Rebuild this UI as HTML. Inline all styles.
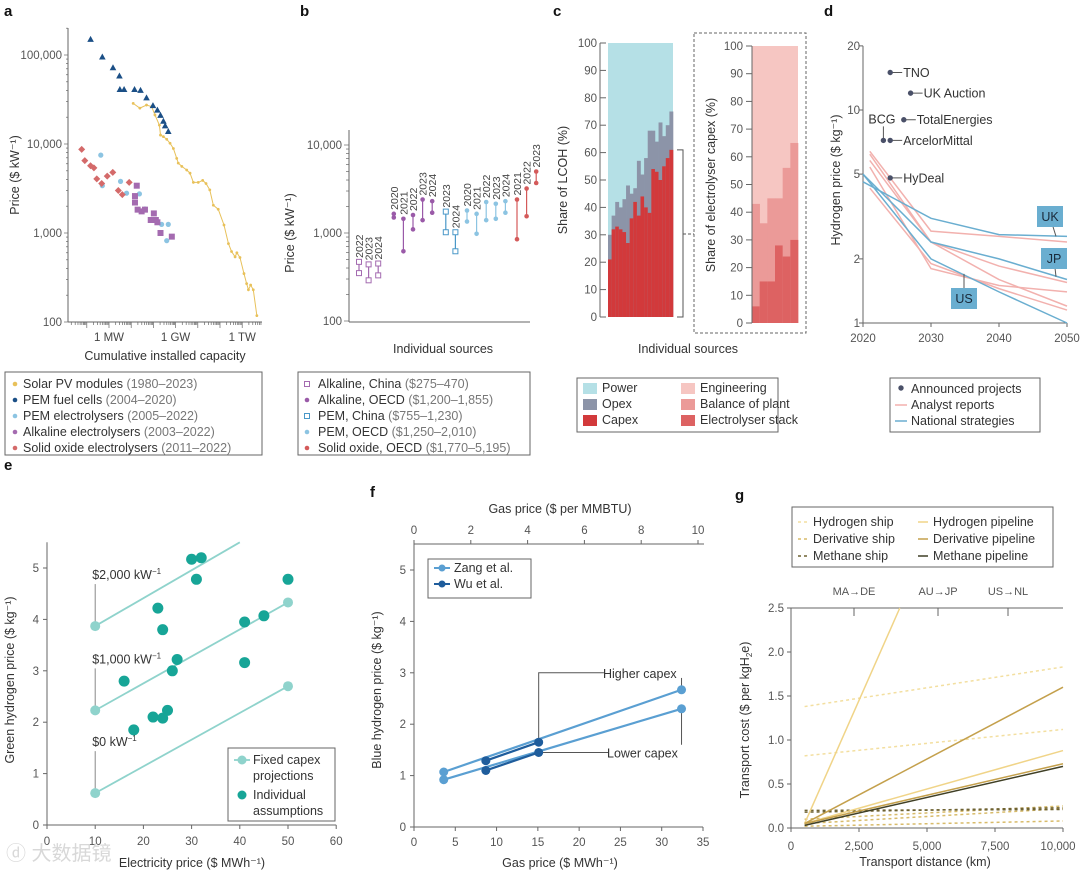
<!DOCTYPE html>
<html><head><meta charset="utf-8"><style>
body{margin:0;background:#fff}
svg{display:block;font-family:"Liberation Sans","Noto Sans CJK SC",sans-serif}
</style></head><body>
<svg id="fig" width="1080" height="872" viewBox="0 0 1080 872" xmlns="http://www.w3.org/2000/svg">
<g font-weight="bold" font-size="15" fill="#111">
<text x="4" y="16">a</text>
<text x="300" y="16">b</text>
<text x="553" y="16">c</text>
<text x="824" y="16">d</text>
<text x="4" y="470">e</text>
<text x="370" y="497">f</text>
<text x="735" y="500">g</text>
</g>
</svg>
<script>
const NS='http://www.w3.org/2000/svg';
const svg=document.getElementById('fig');
function mk(tag,attrs,txt){const e=document.createElementNS(NS,tag);for(const k in attrs)e.setAttribute(k,attrs[k]);if(txt!==undefined)e.textContent=txt;svg.appendChild(e);return e;}
const L10=Math.log10;

/* ---------- data ---------- */
// panel a (capacity as log10 MW, price in $/kW)
const solarCap=[1.09,1.39,1.69,1.92,2.07,2.27,2.32,2.45,2.60,2.75,2.90,3.05,3.12,3.28,3.50,3.65,3.80,4.02,4.22,4.37,4.54,4.70,4.92,5.18,5.38,5.52,5.68,5.76,5.90,6.08,6.20,6.28,6.38,6.50,6.66];
const solarPrice=[28600,25300,27400,26300,21200,16300,12600,12100,11300,10200,8900,6900,6100,5600,5100,4700,3700,3700,3900,3600,3050,2050,1850,1230,760,620,540,600,530,350,270,230,260,230,118];
const fcCap=[-0.83,-0.30,0.18,0.47,0.49,0.68,1.15,1.42,1.69,1.98,2.18,2.32,2.45,2.53,2.67];
const fcPrice=[150000,95000,72000,58000,41000,41000,41000,40000,33000,27000,24000,21000,18000,16000,13800];
const pemCap=[-0.37,-0.30,0.52,0.79,1.37,1.62,2.37,2.67,2.60];
const pemPrice=[7500,3400,3800,2800,2750,1860,1250,1250,820];
const alkCap=[1.25,1.17,1.17,1.29,1.47,1.62,2.02,1.88,2.11,2.18,2.32,2.83];
const alkPrice=[3400,2600,2200,1830,1750,1830,1660,1400,1400,1320,1000,910];
const soCap=[-1.23,-1.09,-0.83,-0.68,-0.55,-0.33,-0.08,0.17,0.42,0.60,0.91];
const soPrice=[8700,6500,5700,5400,4050,3600,4350,4800,3000,2700,3700];
// panel b
const bYears=['2022','2023','2024','2020','2021','2022','2023','2024','2023','2024','2020','2021','2022','2023','2024','2021','2022','2023'];
const bGroup=[0,0,0,1,1,1,1,1,2,2,3,3,3,3,3,4,4,4];
const bLow=[350,290,330,1500,620,1100,1400,1700,1020,620,1350,980,1400,1450,1700,850,1550,3700];
const bHigh=[470,440,450,1650,1450,1600,2400,2300,1750,1020,1800,1650,2250,2150,2300,2400,3200,5000];
// panel c
const capexShare=[21,32,33,32,31,27,36,42,37,44,40,38,54,53,50,55,58,61];
const opexTop=[30,37,42,40,43,48,45,47,57,52,58,68,68,64,71,66,70,75];
const stackShare=[6,15,15,28,24,30];
const bopTop=[43,36,45,45,56,65];
// panel d
const dYears=[2020,2030,2040,2050];
const ukStrat=[4.6,3.1,2.6,2.55];
const jpStrat=[5.0,2.4,2.0,1.6];
const usStrat=[5.0,2.0,1.4,1.0];
const analyst1=[6.4,2.7,2.55,2.4];
const analyst2=[6.2,2.4,1.85,1.55];
const analyst3=[5.8,2.4,1.6,1.2];
const analyst4=[5.4,1.8,1.5,1.4];
const analyst5=[4.3,1.9,1.45,1.15];
const projNames=['TNO','UK Auction','TotalEnergies','BCG','ArcelorMittal','HyDeal'];
const projYear=[2024,2027,2026,2023,2024,2024];
const projPrice=[15,12,9,7.2,7.2,4.8];
// panel e
const eElec=[30,32,31,50,23,24,41,45,27,26,16,41,22,24,25,18];
const eH2=[5.17,5.2,4.78,4.78,4.22,3.8,3.95,4.07,3.22,3.0,2.8,3.16,2.1,2.08,2.23,1.85];
const fixedX0=[10,10,10];
const fixedY0=[3.87,2.23,0.62];
const fixedX1=[40,50,50];
const fixedY1=[5.5,4.33,2.7];
const fixedLabels=['$2,000 kW','$1,000 kW','$0 kW'];
// panel f
const zangGas=[3.6,32.4];
const zangHigh=[1.07,2.67];
const zangLow=[0.92,2.3];
const wuGas=[8.7,15.1];
const wuHigh=[1.29,1.65];
const wuLow=[1.1,1.45];
// panel g
const gStart=500;
const gEnd=[10000,10000,10000,10000,10000,10000,10000,4000,10000,10000,10000,10000];
const gV0=[1.38,0.82,0.1,0.05,0.02,0.2,0.18,0.05,0.05,0.05,0.05,0.03];
const gV1=[1.83,1.12,0.25,0.22,0.08,0.21,0.23,2.5,0.88,1.6,0.73,0.7];
const gType=[0,0,1,1,1,2,2,3,3,4,4,5];

/* ---------- panel a ---------- */
const xA=l=>109+22.2*l, yA=p=>55+89*(5-L10(p));
let e;
e=mk('line',{x1:68,y1:28,x2:68,y2:322,stroke:'#666'});


e=mk('line',{x1:68,y1:322,x2:262,y2:322,stroke:'#666'});


for(let d=2;d<=5;d++){for(let m=1;m<10;m++){const p=m*Math.pow(10,d);if(p>200000)break;
 e=mk('line',{x1:m==1?64:66,y1:yA(p),x2:68,y2:yA(p),stroke:'#666','stroke-width':0.7});
 
 }}
['100','1,000','10,000','100,000'].forEach((t,i)=>{e=mk('text',{x:62,y:yA(Math.pow(10,i+2))+4,'text-anchor':'end','font-size':11.5,fill:'#555'},t);
 
 });
for(let d=-2;d<=6;d++){for(let m=1;m<10;m++){const x=xA(d+L10(m));if(x<70||x>262)continue;
 e=mk('line',{x1:x,y1:322,x2:x,y2:m==1?328:325,stroke:'#666','stroke-width':0.7});
 
 }}
[['1 MW',0],['1 GW',3],['1 TW',6]].forEach(([t,l])=>{e=mk('text',{x:xA(l),y:341,'text-anchor':'middle','font-size':11.5,fill:'#444'},t);
 
 });
e=mk('text',{x:165,y:360,'text-anchor':'middle','font-size':12.5,fill:'#333'},'Cumulative installed capacity');


e=mk('text',{x:0,y:0,transform:'translate(19,175) rotate(-90)','text-anchor':'middle','font-size':12.5,fill:'#333'},'Price ($ kW⁻¹)');


e=mk('polyline',{points:solarCap.map((c,i)=>xA(c)+','+yA(solarPrice[i])).join(' '),fill:'none',stroke:'#e8c15a','stroke-width':1});


solarCap.forEach((c,i)=>{e=mk('circle',{cx:xA(c),cy:yA(solarPrice[i]),r:1.4,fill:'#e8c15a'});
 
 });
fcCap.forEach((c,i)=>{const x=xA(c),y=yA(fcPrice[i]);e=mk('polygon',{points:`${x},${y-3.5} ${x-3.3},${y+2.5} ${x+3.3},${y+2.5}`,fill:'#1b4f86'});
 
 });
pemCap.forEach((c,i)=>{e=mk('circle',{cx:xA(c),cy:yA(pemPrice[i]),r:2.6,fill:'#8cc4e2'});
 
 });
alkCap.forEach((c,i)=>{e=mk('rect',{x:xA(c)-3,y:yA(alkPrice[i])-3,width:6,height:6,fill:'#a46bb0'});
 
 });
soCap.forEach((c,i)=>{const x=xA(c),y=yA(soPrice[i]);e=mk('polygon',{points:`${x},${y-3.5} ${x+3.5},${y} ${x},${y+3.5} ${x-3.5},${y}`,fill:'#d46a6a'});
 
 });
e=mk('rect',{x:5,y:372,width:257,height:83,fill:'none',stroke:'#666'});


const aLeg=[['Solar PV modules','(1980–2023)','#e8c15a'],['PEM fuel cells','(2004–2020)','#1b4f86'],['PEM electrolysers','(2005–2022)','#8cc4e2'],['Alkaline electrolysers','(2003–2022)','#a46bb0'],['Solid oxide electrolysers','(2011–2022)','#d46a6a']];
aLeg.forEach((r,i)=>{const y=388+16*i;
 e=mk('circle',{cx:15,cy:y-4,r:2.3,fill:r[2]});
 
 
 e=mk('text',{x:23,y:y,'font-size':12.5,fill:'#333'});
 e.innerHTML=r[0]+' <tspan fill="#777">'+r[1]+'</tspan>';
 
 });

/* ---------- panel b ---------- */
const yB=p=>233+88*(3-L10(p));
const bColors=['#a46bb0','#9a5aa8','#4a98c8','#8cc4e2','#d45a5a'];
e=mk('line',{x1:349,y1:130,x2:349,y2:322,stroke:'#666'});


e=mk('line',{x1:349,y1:322,x2:530,y2:322,stroke:'#666'});


for(let d=2;d<=4;d++){for(let m=1;m<10;m++){const p=m*Math.pow(10,d);if(p>10000)break;
 e=mk('line',{x1:m==1?344:346,y1:yB(p),x2:349,y2:yB(p),stroke:'#666','stroke-width':0.7});
 
 }}
['100','1,000','10,000'].forEach((t,i)=>{e=mk('text',{x:342,y:yB(Math.pow(10,i+2))+4,'text-anchor':'end','font-size':11.5,fill:'#555'},t);
 
 });
e=mk('text',{x:0,y:0,transform:'translate(294,233) rotate(-90)','text-anchor':'middle','font-size':12.5,fill:'#333'},'Price ($ kW⁻¹)');


e=mk('text',{x:443,y:353,'text-anchor':'middle','font-size':12.5,fill:'#333'},'Individual sources');


const xB=i=>359+9.6*i+(bGroup[i]>=1?6:0)+(bGroup[i]>=2?4:0)+(bGroup[i]>=3?2:0)+(bGroup[i]>=4?2:0);
bLow.forEach((lo,i)=>{const x=xB(i),c=bColors[bGroup[i]],sq=(bGroup[i]==0||bGroup[i]==2);
 e=mk('line',{x1:x,y1:yB(lo),x2:x,y2:yB(bHigh[i]),stroke:c,'stroke-width':1.2});
 
 
 [lo,bHigh[i]].forEach(v=>{
  if(sq){e=mk('rect',{x:x-2.5,y:yB(v)-2.5,width:5,height:5,fill:'#fff',stroke:c,'stroke-width':1});}
  else{e=mk('circle',{cx:x,cy:yB(v),r:2.3,fill:c});}
  
  });
 e=mk('text',{x:0,y:0,transform:`translate(${x+4},${yB(bHigh[i])-4}) rotate(-90)`,'font-size':10.5,fill:'#444'},bYears[i]);
 
 });
e=mk('rect',{x:298,y:372,width:232,height:83,fill:'none',stroke:'#666'});


const bLeg=[['Alkaline, China','($275–470)'],['Alkaline, OECD','($1,200–1,855)'],['PEM, China','($755–1,230)'],['PEM, OECD','($1,250–2,010)'],['Solid oxide, OECD','($1,770–5,195)']];
bLeg.forEach((r,i)=>{const y=388+16*i,sq=(i==0||i==2);
 if(sq){e=mk('rect',{x:304.5,y:y-6.5,width:5,height:5,fill:'#fff',stroke:bColors[i]});}else{e=mk('circle',{cx:307,cy:y-4,r:2.3,fill:bColors[i]});}
 
 
 e=mk('text',{x:318,y:y,'font-size':12.5,fill:'#333'});
 e.innerHTML=r[0]+' <tspan fill="#777">'+r[1]+'</tspan>';
 
 });

/* ---------- panel c ---------- */
const yC=v=>317-2.74*v, yC2=v=>323-2.77*v;
const cx0=608,cw=65/capexShare.length;
e=mk('rect',{x:cx0,y:yC(100),width:65,height:yC(0)-yC(100),fill:'#b5e0e6'});


capexShare.forEach((v,i)=>{
 e=mk('rect',{x:cx0+i*cw,y:yC(opexTop[i]),width:cw+0.3,height:yC(0)-yC(opexTop[i]),fill:'#8c94a8'});
 
 
 e=mk('rect',{x:cx0+i*cw,y:yC(v),width:cw+0.3,height:yC(0)-yC(v),fill:'#d2393b'});
 
 });
e=mk('line',{x1:600,y1:yC(0),x2:600,y2:yC(100),stroke:'#666'});


for(let v=0;v<=100;v+=10){e=mk('line',{x1:600,y1:yC(v),x2:606,y2:yC(v),stroke:'#666'});
 
 
 e=mk('text',{x:597,y:yC(v)+4,'text-anchor':'end','font-size':11.5,fill:'#555'},String(v));
 
 }
e=mk('text',{x:0,y:0,transform:'translate(567,180) rotate(-90)','text-anchor':'middle','font-size':12.5,fill:'#333'},'Share of LCOH (%)');


e=mk('polyline',{points:`677,${yC(61)} 683,${yC(61)} 683,${yC(0)} 677,${yC(0)}`,fill:'none',stroke:'#555'});


e=mk('line',{x1:683,y1:234,x2:694,y2:234,stroke:'#555','stroke-dasharray':'3,2'});


e=mk('rect',{x:694,y:33,width:112,height:300,fill:'none',stroke:'#666','stroke-dasharray':'3,2'});


const c2x=752,c2w=46/stackShare.length;
e=mk('rect',{x:c2x,y:yC2(100),width:46,height:yC2(0)-yC2(100),fill:'#f6c6c2'});


stackShare.forEach((v,i)=>{
 e=mk('rect',{x:c2x+i*c2w,y:yC2(bopTop[i]),width:c2w+0.3,height:yC2(0)-yC2(bopTop[i]),fill:'#eb9a98'});
 
 
 e=mk('rect',{x:c2x+i*c2w,y:yC2(v),width:c2w+0.3,height:yC2(0)-yC2(v),fill:'#dd6262'});
 
 });
e=mk('line',{x1:752,y1:yC2(0),x2:752,y2:yC2(100),stroke:'#666'});


for(let v=0;v<=100;v+=10){e=mk('line',{x1:746,y1:yC2(v),x2:752,y2:yC2(v),stroke:'#666'});
 
 
 e=mk('text',{x:743,y:yC2(v)+4,'text-anchor':'end','font-size':11.5,fill:'#555'},String(v));
 
 }
e=mk('text',{x:0,y:0,transform:'translate(715,185) rotate(-90)','text-anchor':'middle','font-size':12.5,fill:'#333'},'Share of electrolyser capex (%)');


e=mk('text',{x:688,y:353,'text-anchor':'middle','font-size':12.5,fill:'#333'},'Individual sources');


e=mk('rect',{x:577,y:378,width:201,height:54,fill:'none',stroke:'#666'});


[['Power','#b5e0e6',583],['Opex','#8c94a8',583],['Capex','#d2393b',583],['Engineering','#f6c6c2',681],['Balance of plant','#eb9a98',681],['Electrolyser stack','#dd6262',681]].forEach((r,i)=>{const y=392+16*(i%3);
 e=mk('rect',{x:r[2],y:y-9,width:14,height:11,fill:r[1]});
 
 
 e=mk('text',{x:r[2]+19,y:y,'font-size':12.5,fill:'#333'},r[0]);
 
 });

/* ---------- panel d ---------- */
const xD=y=>863+(y-2020)*6.8, yD=v=>323-213*L10(v);
e=mk('line',{x1:863,y1:yD(20),x2:863,y2:yD(1),stroke:'#666'});


e=mk('line',{x1:863,y1:yD(1),x2:1067,y2:yD(1),stroke:'#666'});


[1,2,5,10,20].forEach(v=>{e=mk('line',{x1:859,y1:yD(v),x2:863,y2:yD(v),stroke:'#666'});
 
 
 e=mk('text',{x:860,y:yD(v)+4,'text-anchor':'end','font-size':11.5,fill:'#555'},String(v));
 
 });
dYears.forEach(y=>{e=mk('line',{x1:xD(y),y1:323,x2:xD(y),y2:327,stroke:'#666'});
 
 
 e=mk('text',{x:xD(y),y:342,'text-anchor':'middle','font-size':11.5,fill:'#555'},String(y));
 
 });
e=mk('text',{x:0,y:0,transform:'translate(840,180) rotate(-90)','text-anchor':'middle','font-size':12.5,fill:'#333'},'Hydrogen price ($ kg⁻¹)');


[analyst1,analyst2,analyst3,analyst4,analyst5].forEach(s=>{e=mk('polyline',{points:s.map((v,i)=>xD(dYears[i]+(i==0?1:0))+','+yD(v)).join(' '),fill:'none',stroke:'#f2b1ae','stroke-width':1.5});
 
 });
[ukStrat,jpStrat,usStrat].forEach(s=>{e=mk('polyline',{points:s.map((v,i)=>xD(dYears[i])+','+yD(v)).join(' '),fill:'none',stroke:'#6aaed0','stroke-width':1.5});
 
 });
projNames.forEach((n,i)=>{const x=xD(projYear[i]),y=yD(projPrice[i]);
 if(n=='BCG'){e=mk('line',{x1:x,y1:y,x2:x,y2:y-14,stroke:'#555'});
  
  
  e=mk('text',{x:x-15,y:y-17,'font-size':12.5,fill:'#333'},n);}
 else{e=mk('line',{x1:x,y1:y,x2:x+12,y2:y,stroke:'#555'});
  
  
  e=mk('text',{x:x+13,y:y+4.5,'font-size':12.5,fill:'#333'},n);}
 
 
 e=mk('circle',{cx:x,cy:y,r:2.7,fill:'#4a5068'});
 
 });
[['UK',1050,206,1056,yD(2.55)],['JP',1054,248,1056,yD(1.65)],['US',964,288,964,yD(1.7)]].forEach(r=>{
 e=mk('line',{x1:r[3],y1:r[4],x2:r[1],y2:r[2]+11,stroke:'#555'});
 
 
 e=mk('rect',{x:r[1]-13,y:r[2],width:26,height:21,fill:'#6aaed0'});
 
 
 e=mk('text',{x:r[1],y:r[2]+15,'text-anchor':'middle','font-size':12.5,fill:'#1a2a3a'},r[0]);
 
 });
e=mk('rect',{x:890,y:378,width:150,height:54,fill:'none',stroke:'#666'});


e=mk('circle',{cx:901,cy:388,r:2.7,fill:'#4a5068'});


e=mk('line',{x1:895,y1:405,x2:907,y2:405,stroke:'#f2b1ae','stroke-width':1.5});


e=mk('line',{x1:895,y1:421,x2:907,y2:421,stroke:'#6aaed0','stroke-width':1.5});


['Announced projects','Analyst reports','National strategies'].forEach((t,i)=>{e=mk('text',{x:911,y:393+16*i,'font-size':12.5,fill:'#333'},t);
 
 });

/* ---------- panel e ---------- */
const xE=v=>47+4.82*v, yE=v=>825-51.4*v;
e=mk('line',{x1:47,y1:yE(5.5),x2:47,y2:yE(0),stroke:'#666'});


e=mk('line',{x1:47,y1:yE(0),x2:xE(60),y2:yE(0),stroke:'#666'});


for(let v=0;v<=5;v++){e=mk('line',{x1:43,y1:yE(v),x2:47,y2:yE(v),stroke:'#666'});
 
 
 e=mk('text',{x:39,y:yE(v)+4,'text-anchor':'end','font-size':11.5,fill:'#555'},String(v));
 
 }
for(let v=0;v<=60;v+=10){e=mk('line',{x1:xE(v),y1:825,x2:xE(v),y2:829,stroke:'#666'});
 
 
 e=mk('text',{x:xE(v),y:845,'text-anchor':'middle','font-size':11.5,fill:'#555'},String(v));
 
 }
e=mk('text',{x:192,y:867,'text-anchor':'middle','font-size':12.5,fill:'#333'},'Electricity price ($ MWh⁻¹)');


e=mk('text',{x:0,y:0,transform:'translate(14,680) rotate(-90)','text-anchor':'middle','font-size':12.5,fill:'#333'},'Green hydrogen price ($ kg⁻¹)');


fixedX0.forEach((x0,i)=>{
 e=mk('line',{x1:xE(x0),y1:yE(fixedY0[i]),x2:xE(fixedX1[i]),y2:yE(fixedY1[i]),stroke:'#8fd3cc','stroke-width':1.8});
 
 
 e=mk('line',{x1:xE(x0),y1:yE(fixedY0[i]),x2:xE(x0),y2:yE(fixedY0[i])-42,stroke:'#888'});
 
 
 e=mk('text',{x:xE(x0)-3,y:yE(fixedY0[i])-47,'font-size':12.5,fill:'#333'});
 e.innerHTML=fixedLabels[i]+'<tspan dy="-5" font-size="8">−1</tspan>';
 
 
 [[fixedX0[i],fixedY0[i]],[fixedX1[i],fixedY1[i]]].forEach(([x,y])=>{if(x==40)return;
  e=mk('circle',{cx:xE(x),cy:yE(y),r:5,fill:'#8fd3cc'});
  
  });});
eElec.forEach((x,i)=>{e=mk('circle',{cx:xE(x),cy:yE(eH2[i]),r:5.5,fill:'#17a597'});
 
 });
e=mk('rect',{x:228,y:748,width:107,height:73,fill:'#fff',stroke:'#666'});


e=mk('line',{x1:234,y1:760,x2:250,y2:760,stroke:'#8fd3cc','stroke-width':1.8});


e=mk('circle',{cx:242,cy:760,r:4.5,fill:'#8fd3cc'});


e=mk('circle',{cx:242,cy:795,r:4.5,fill:'#17a597'});


[['Fixed capex',764],['projections',780],['Individual',799],['assumptions',815]].forEach(r=>{e=mk('text',{x:253,y:r[1],'font-size':12.5,fill:'#333'},r[0]);
 
 });
e=mk('text',{x:6,y:860,'font-size':20,fill:'#d8d8d8'},'ⓓ 大数据镜');



/* ---------- panel f ---------- */
const xF=v=>414+8.257*v, yF=v=>827-51.4*v, xT=m=>414+28.4*m;
e=mk('line',{x1:414,y1:544,x2:414,y2:827,stroke:'#666'});


e=mk('line',{x1:414,y1:827,x2:xF(35),y2:827,stroke:'#666'});


e=mk('line',{x1:414,y1:544,x2:704,y2:544,stroke:'#666'});


for(let v=0;v<=5;v++){e=mk('line',{x1:410,y1:yF(v),x2:414,y2:yF(v),stroke:'#666'});
 
 
 e=mk('text',{x:406,y:yF(v)+4,'text-anchor':'end','font-size':11.5,fill:'#555'},String(v));
 
 }
for(let v=0;v<=35;v+=5){e=mk('line',{x1:xF(v),y1:827,x2:xF(v),y2:831,stroke:'#666'});
 
 
 e=mk('text',{x:xF(v),y:846,'text-anchor':'middle','font-size':11.5,fill:'#555'},String(v));
 
 }
for(let m=0;m<=10;m+=2){e=mk('line',{x1:xT(m),y1:544,x2:xT(m),y2:540,stroke:'#666'});
 
 
 e=mk('text',{x:xT(m),y:534,'text-anchor':'middle','font-size':11.5,fill:'#555'},String(m));
 
 }
e=mk('text',{x:560,y:513,'text-anchor':'middle','font-size':12.5,fill:'#333'},'Gas price ($ per MMBTU)');


e=mk('text',{x:560,y:867,'text-anchor':'middle','font-size':12.5,fill:'#333'},'Gas price ($ MWh⁻¹)');


e=mk('text',{x:0,y:0,transform:'translate(381,690) rotate(-90)','text-anchor':'middle','font-size':12.5,fill:'#333'},'Blue hydrogen price ($ kg⁻¹)');


e=mk('polyline',{points:`${xF(wuGas[1])},${yF(wuHigh[1])} ${xF(wuGas[1])},${yF(3)} ${xF(23)},${yF(3)}`,fill:'none',stroke:'#555'});


e=mk('line',{x1:xF(zangGas[1]),y1:yF(zangHigh[1]),x2:xF(zangGas[1]),y2:yF(2.9),stroke:'#555'});


e=mk('line',{x1:xF(wuGas[1]),y1:yF(wuLow[1]),x2:xF(23.5),y2:yF(wuLow[1]),stroke:'#555'});


e=mk('line',{x1:xF(zangGas[1]),y1:yF(zangLow[1]),x2:xF(zangGas[1]),y2:yF(1.6),stroke:'#555'});


e=mk('text',{x:603,y:yF(3)+5,'font-size':12.5,fill:'#333'},'Higher capex');


e=mk('text',{x:607,y:yF(1.45)+5,'font-size':12.5,fill:'#333'},'Lower capex');


[[zangGas,zangHigh,'#5a9fd2'],[zangGas,zangLow,'#5a9fd2'],[wuGas,wuHigh,'#1f5d9c'],[wuGas,wuLow,'#1f5d9c']].forEach(([xs,ys,c])=>{
 e=mk('line',{x1:xF(xs[0]),y1:yF(ys[0]),x2:xF(xs[1]),y2:yF(ys[1]),stroke:c,'stroke-width':2.2});
 
 
 xs.forEach((x,i)=>{e=mk('circle',{cx:xF(x),cy:yF(ys[i]),r:4.5,fill:c});
  
  });});
e=mk('rect',{x:428,y:559,width:103,height:39,fill:'#fff',stroke:'#666'});


[['Zang et al.','#5a9fd2',572],['Wu et al.','#1f5d9c',588]].forEach(r=>{
 e=mk('line',{x1:434,y1:r[2]-4,x2:450,y2:r[2]-4,stroke:r[1],'stroke-width':2});
 
 
 e=mk('circle',{cx:442,cy:r[2]-4,r:3.5,fill:r[1]});
 
 
 e=mk('text',{x:454,y:r[2],'font-size':12.5,fill:'#333'},r[0]);
 
 });

/* ---------- panel g ---------- */
const xG=k=>791+0.0272*k, yG=v=>828-88*v;
const gStyle=[['#f3dfa0','3,3'],['#d8bb6a','3,3'],['#6e6232','3,3'],['#f0d488',''],['#c4a04c',''],['#3f3f25','']];
e=mk('line',{x1:791,y1:608,x2:791,y2:828,stroke:'#666'});


e=mk('line',{x1:791,y1:828,x2:1063,y2:828,stroke:'#666'});


e=mk('line',{x1:791,y1:608,x2:1063,y2:608,stroke:'#666'});


[0,0.5,1,1.5,2,2.5].forEach(v=>{e=mk('line',{x1:787,y1:yG(v),x2:791,y2:yG(v),stroke:'#666'});
 
 
 e=mk('text',{x:784,y:yG(v)+4,'text-anchor':'end','font-size':11.5,fill:'#555'},v.toFixed(1));
 
 });
[0,2500,5000,7500,10000].forEach(k=>{e=mk('line',{x1:xG(k),y1:828,x2:xG(k),y2:832,stroke:'#666'});
 
 
 e=mk('text',{x:Math.min(xG(k),1058),y:850,'text-anchor':'middle','font-size':11.5,fill:'#555'},k.toLocaleString('en-US'));
 
 });
[['MA→DE',854],['AU→JP',938],['US→NL',1008]].forEach(r=>{e=mk('line',{x1:r[1],y1:608,x2:r[1],y2:616,stroke:'#666'});
 
 
 e=mk('text',{x:r[1],y:595,'text-anchor':'middle','font-size':11,fill:'#555'},r[0]);
 
 });
e=mk('text',{x:925,y:866,'text-anchor':'middle','font-size':12.5,fill:'#333'},'Transport distance (km)');


e=mk('text',{x:0,y:0,transform:'translate(749,720) rotate(-90)','text-anchor':'middle','font-size':12.5,fill:'#333'});
e.innerHTML='Transport cost ($ per kgH<tspan font-size="8" dy="3">2</tspan><tspan dy="-3">e)</tspan>';


gV0.forEach((v,i)=>{const s=gStyle[gType[i]];
 e=mk('line',{x1:xG(gStart),y1:yG(v),x2:xG(gEnd[i]),y2:yG(gV1[i]),stroke:s[0],'stroke-width':1.5,'stroke-dasharray':s[1]});
 
 });
e=mk('rect',{x:792,y:507,width:261,height:60,fill:'#fff',stroke:'#666'});


['Hydrogen ship','Derivative ship','Methane ship','Hydrogen pipeline','Derivative pipeline','Methane pipeline'].forEach((t,i)=>{const col=i<3?0:1,x=col?918:798,y=526+17*(i%3),s=gStyle[i];
 e=mk('line',{x1:x,y1:y-4,x2:x+10,y2:y-4,stroke:s[0],'stroke-width':1.5,'stroke-dasharray':s[1]});
 
 
 e=mk('text',{x:x+15,y:y,'font-size':12.5,fill:'#333'},t);
 
 });
</script>
</body></html>
